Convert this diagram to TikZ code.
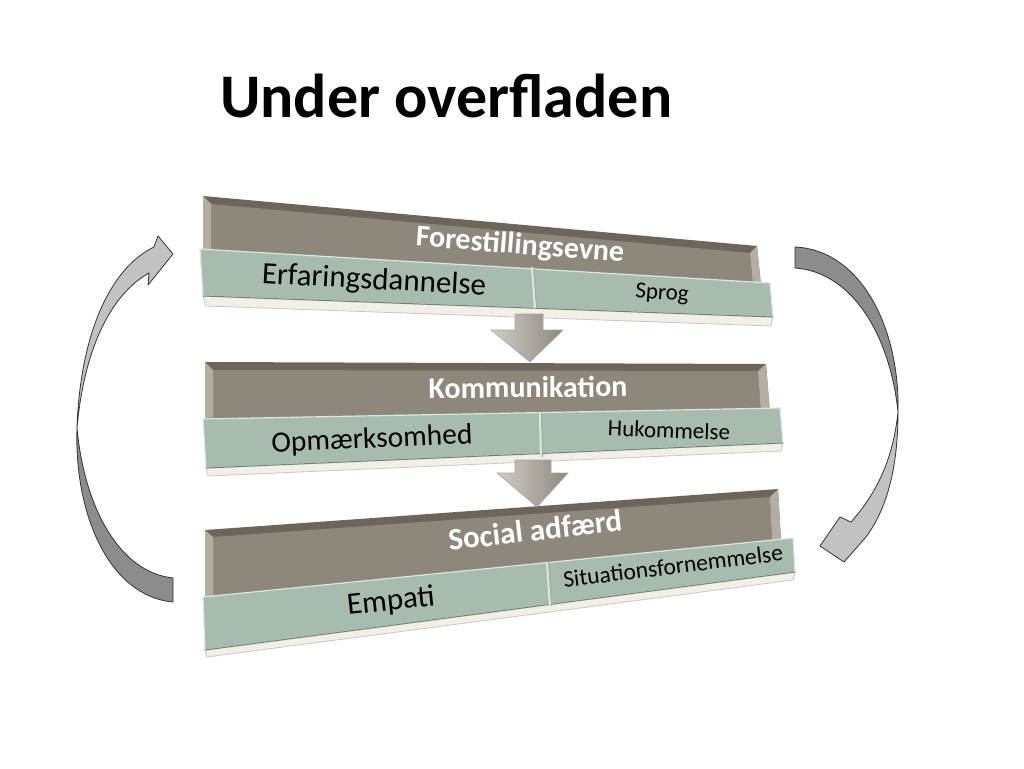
\documentclass[tikz,border=0pt]{standalone}
\usepackage{fontspec}
\setmainfont{Carlito}
\definecolor{hdrrim}{HTML}{6B655C}
\definecolor{hdrfill}{HTML}{8E877C}
\definecolor{hdrlight}{HTML}{B3ADA2}
\definecolor{cellfill}{HTML}{A7BCAE}
\definecolor{cellhi}{HTML}{DCE7E0}
\definecolor{celldark}{HTML}{6F8275}
\definecolor{cream}{HTML}{F1EFE6}
\definecolor{shadowc}{HTML}{C9C8C2}
\definecolor{arrdark}{HTML}{8C8C8C}
\definecolor{arrlight}{HTML}{C2C2C2}
\definecolor{arrline}{HTML}{333333}
\begin{document}
\begin{tikzpicture}[x=1pt,y=-1pt,
  hdrrimst/.style={fill=hdrrim},
  hdrst/.style={fill=hdrfill},
  sidest/.style={fill=hdrlight},
  cellst/.style={fill=cellfill, draw=cellhi, line width=1.2pt},
  creamst/.style={fill=cream, draw=shadowc, line width=0.8pt},
  divst/.style={draw=cellhi, line width=2.2pt},
  divline/.style={draw=celldark!70, line width=0.6pt},
  hdrtext/.style={text=white, font=\fontsize{30}{36}\selectfont\bfseries, inner sep=0pt},
  bigtext/.style={text=black, font=\fontsize{31}{37}\selectfont, inner sep=0pt},
  smalltext/.style={text=black, font=\fontsize{23}{28}\selectfont, inner sep=0pt},
  downarrow/.style={left color=hdrlight!60!white, right color=hdrfill, draw=gray!70, line width=0.6pt},
  curvedark/.style={fill=arrdark, draw=arrline, line width=0.8pt, line join=round},
  curvelight/.style={fill=arrlight, draw=arrline, line width=0.8pt, line join=round}
]
\useasboundingbox (0,0) rectangle (1024,768);

% Title
\node[anchor=base west, inner sep=0pt, font=\fontsize{62}{70}\selectfont\bfseries] (title) at (220,117) {Under overfladen};

% ---------- Box 1 ----------
\fill[hdrrimst] (203,196) -- (757,246) -- (761,286) -- (203,256) -- cycle;
\fill[hdrst] (211,204) -- (750,253) -- (753,286) -- (211,256) -- cycle;
\fill[sidest] (203,196) -- (211,204) -- (211,256) -- (203,256) -- cycle;
\fill[sidest] (757,246) -- (750,253) -- (753,286) -- (761,286) -- cycle;
\draw[creamst] (203,296) -- (773,317) -- (771,326) -- (206,306) -- cycle;
\draw[cellst] (200,249) -- (770,283) -- (773,317) -- (203,296) -- cycle;
\draw[celldark, line width=1pt] (203,296) -- (773,317);
\draw[divst] (532,267) -- (535,308);
\draw[divline] (533.5,267) -- (536.5,308);
\node[hdrtext, rotate=-4.5] (n1) at (520,246) {Forestillingsevne};
\node[bigtext, rotate=-3] (n1a) at (374,281) {Erfaringsdannelse};
\node[smalltext, rotate=-4] (n1b) at (662,294) {Sprog};

% ---------- Box 2 ----------
\fill[hdrrimst] (205,362) -- (766,364) -- (770,414) -- (205,421) -- cycle;
\fill[hdrst] (213,370) -- (758,371) -- (761,414) -- (213,421) -- cycle;
\fill[sidest] (205,362) -- (213,370) -- (213,421) -- (205,421) -- cycle;
\fill[sidest] (766,364) -- (758,371) -- (761,414) -- (770,414) -- cycle;
\draw[creamst] (206,468) -- (783,443) -- (781,451) -- (208,476) -- cycle;
\draw[cellst] (203,419) -- (780,408) -- (783,443) -- (206,468) -- cycle;
\draw[celldark, line width=1pt] (206,468) -- (783,443);
\draw[divst] (540,413) -- (541,457);
\draw[divline] (541.5,413) -- (542.5,457);
\node[hdrtext, rotate=0.5] (n2) at (528,387) {Kommunikation};
\node[bigtext, font=\fontsize{29.5}{35}\selectfont, rotate=2.5] (n2a) at (372,440) {Opmærksomhed};
\node[smalltext, rotate=-2] (n2b) at (669,430) {Hukommelse};

% ---------- Box 3 ----------
\fill[hdrrimst] (205,530) -- (778,489) -- (781,542) -- (205,599) -- cycle;
\fill[hdrst] (213,537) -- (770,497) -- (772,542) -- (213,599) -- cycle;
\fill[sidest] (205,530) -- (213,537) -- (213,599) -- (205,599) -- cycle;
\fill[sidest] (778,489) -- (770,497) -- (772,542) -- (781,542) -- cycle;
\draw[creamst] (205,650) -- (795,572) -- (793,580) -- (207,657) -- cycle;
\draw[cellst] (203,597) -- (793,538) -- (795,572) -- (205,650) -- cycle;
\draw[celldark, line width=1pt] (205,650) -- (795,572);
\draw[divst] (547,562) -- (550,606);
\draw[divline] (548.5,562) -- (551.5,606);
\node[hdrtext, font=\fontsize{31}{37}\selectfont\bfseries, rotate=6.5] (n3) at (535,530) {Social adfærd};
\node[bigtext, rotate=6] (n3a) at (391,602) {Empati};
\node[smalltext, font=\fontsize{23.5}{28}\selectfont, rotate=7] (n3b) at (673,566) {Situationsfornemmelse};

% ---------- Down arrows ----------
\shade[downarrow] (515,314) -- (543,314) -- (543,330) -- (563,330) -- (530,362) -- (491,330) -- (515,330) -- cycle;
\shade[downarrow] (515,460) -- (551,460) -- (551,473) -- (568,473) -- (537,507) -- (497,473) -- (515,473) -- cycle;

% ---------- Left curved arrow ----------
\path[curvedark] (173,602) .. controls (108,596) and (74,512) .. (77,428)
  .. controls (84,505) and (118,572) .. (173,578) -- cycle;
\path[curvelight] (77,428) .. controls (80,335) and (110,268) .. (154,247)
  -- (158,236) -- (173,254) -- (148,285) -- (149,273)
  .. controls (110,295) and (84,350) .. (77,428) -- cycle;

% ---------- Right curved arrow ----------
\path[curvedark] (795,247) .. controls (862,250) and (900,330) .. (898,412)
  .. controls (890,335) and (852,272) .. (795,268) -- cycle;
\path[curvelight] (898,412) .. controls (898,470) and (886,510) .. (866,537)
  -- (844,562) -- (820,546) -- (840,517) -- (851,522)
  .. controls (876,494) and (893,460) .. (898,412) -- cycle;
\end{tikzpicture}
\end{document}
